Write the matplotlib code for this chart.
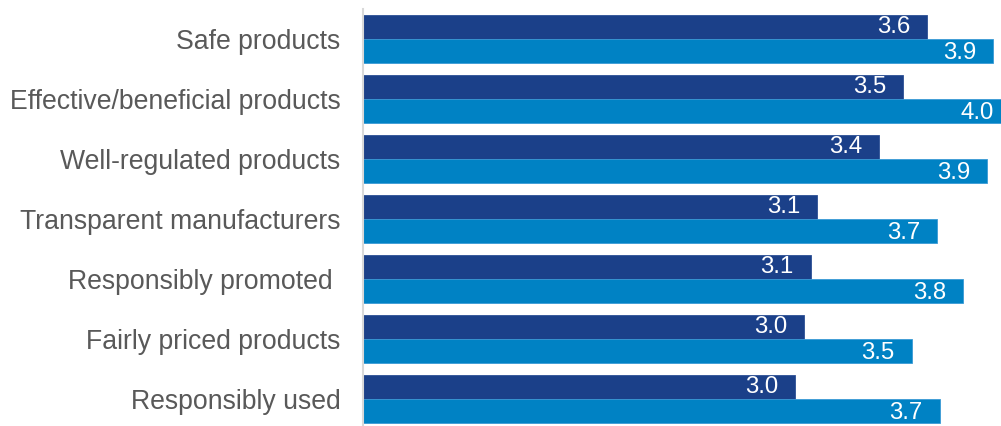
import matplotlib
matplotlib.use('Agg')
import matplotlib.pyplot as plt
import numpy as np

# Data (bar lengths estimated, labels as printed)
categories = ['Safe products', 'Effective/beneficial products', 'Well-regulated products',
              'Transparent manufacturers', 'Responsibly promoted ', 'Fairly priced products',
              'Responsibly used']
series_a = [3.62, 3.51, 3.40, 3.11, 3.08, 3.05, 3.01]
series_b = [3.93, 4.01, 3.90, 3.67, 3.79, 3.55, 3.68]
labels_a = ['3.6', '3.5', '3.4', '3.1', '3.1', '3.0', '3.0']
labels_b = ['3.9', '4.0', '3.9', '3.7', '3.8', '3.5', '3.7']

dark = '#1B4089'
light = '#0082C4'

plt.rcParams['font.family'] = ['Liberation Sans', 'DejaVu Sans']

fig = plt.figure(figsize=(10.01, 4.26), dpi=100)
# axes runs past the right edge of the figure (chart is cropped there)
ax = fig.add_axes([363.3 / 1001, -2.7 / 426, 656 / 1001, 420 / 426])

y = np.arange(len(categories))
h = 0.4
ax.barh(y - h / 2, series_a, height=h, left=0, color=dark, edgecolor='#2c4f95', linewidth=0.6)
ax.barh(y + h / 2, series_b, height=h, left=0, color=light, edgecolor='#3a9ad6', linewidth=0.6)

for yi, v, lab in zip(y, series_a, labels_a):
    ax.annotate(lab, (v, yi - h / 2), xytext=(-12, 0), textcoords='offset points',
                ha='right', va='center', color='white', fontsize=17.3)
for yi, v, lab in zip(y, series_b, labels_b):
    ax.annotate(lab, (v, yi + h / 2 + 0.03), xytext=(-12, 0), textcoords='offset points',
                ha='right', va='center', color='white', fontsize=17.3)

ax.set_xlim(1, 1 + 656 / 215)
ax.set_ylim(6.5, -0.5)
ax.set_yticks(y)
ax.set_yticklabels(categories, fontsize=19.2, color='#595959')
ax.tick_params(axis='y', length=0, pad=16.5)
ax.set_xticks([])

for s in ['top', 'right', 'bottom']:
    ax.spines[s].set_visible(False)
ax.spines['left'].set_color('#D9D9D9')
ax.spines['left'].set_linewidth(1.5)

fig.savefig('out.png', dpi=100)
